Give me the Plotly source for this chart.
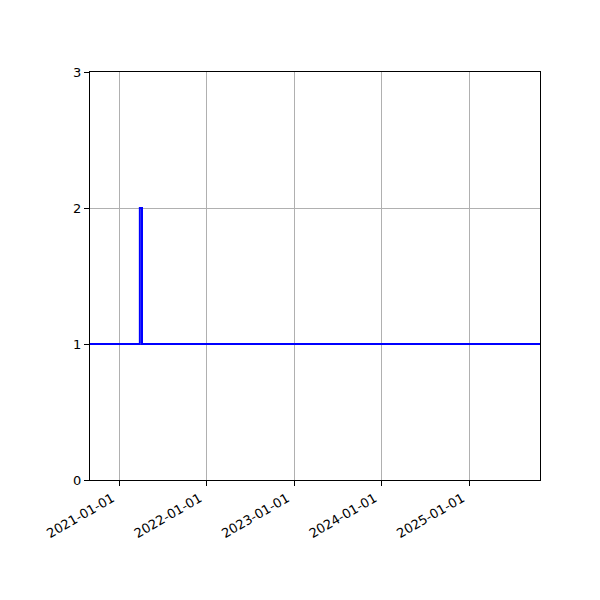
import plotly.graph_objects as go

# step data: value changes at these dates
dates = ["2020-09-01", "2021-03-28", "2021-04-06", "2025-10-23"]
values = [1, 2, 1, 1]

x_range = ["2020-09-01", "2025-10-23"]
tick_dates = ["2021-01-01", "2022-01-01", "2023-01-01", "2024-01-01", "2025-01-01"]

fig = go.Figure(go.Scatter(
    x=dates, y=values, mode="lines",
    line=dict(color="#0000ff", width=2, shape="hv"),
))

axis_common = dict(
    showline=True, linecolor="black", linewidth=1, mirror=True,
    ticks="outside", ticklen=5, tickcolor="black",
    showgrid=True, gridcolor="#b0b0b0", gridwidth=1, zeroline=False,
    tickfont=dict(family="DejaVu Sans", size=13, color="black"),
)

# page body has an 8px margin, so shift the plot area up/left to compensate
fig.update_layout(
    width=600, height=600,
    margin=dict(l=82, r=68, t=64, b=128),
    plot_bgcolor="white", paper_bgcolor="white",
    showlegend=False,
    xaxis=dict(range=x_range, tickvals=tick_dates, ticktext=tick_dates,
               tickangle=-30, ticklabelshift=-7, **axis_common),
    yaxis=dict(range=[0, 3], tickvals=[0, 1, 2, 3], **axis_common),
)

fig.write_html("out.html")
